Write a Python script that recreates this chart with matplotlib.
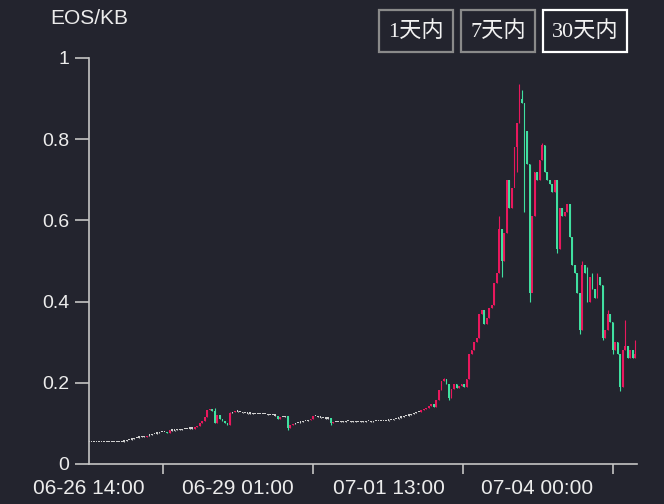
import matplotlib
matplotlib.use("Agg")
import matplotlib.pyplot as plt
from matplotlib.patches import Rectangle
import numpy as np

# hourly closes, starting 06-26 14:00
closes = [
    0.054, 0.054, 0.053, 0.054, 0.054, 0.053, 0.054, 0.054, 0.054, 0.053,
    0.054, 0.055, 0.054, 0.055, 0.056, 0.058, 0.060, 0.062, 0.064, 0.065,
    0.066, 0.068, 0.067, 0.070, 0.072, 0.073, 0.075, 0.076, 0.078, 0.079,
    0.080, 0.077, 0.083, 0.082, 0.084, 0.085, 0.084, 0.086, 0.085, 0.087,
    0.088, 0.087, 0.090, 0.094, 0.100, 0.106, 0.115, 0.132, 0.136, 0.131,
    0.100, 0.120, 0.112, 0.106, 0.101, 0.096, 0.126, 0.128, 0.131, 0.129,
    0.127, 0.126, 0.125, 0.124, 0.125, 0.123, 0.122, 0.124, 0.123, 0.124,
    0.122, 0.121, 0.121, 0.120, 0.119, 0.112, 0.116, 0.115, 0.117, 0.089,
    0.095, 0.098, 0.100, 0.102, 0.103, 0.105, 0.106, 0.108, 0.111, 0.117,
    0.118, 0.116, 0.114, 0.113, 0.112, 0.113, 0.100, 0.104, 0.103, 0.104,
    0.105, 0.104, 0.105, 0.105, 0.104, 0.105, 0.104, 0.104, 0.105, 0.104,
    0.105, 0.105, 0.104, 0.105, 0.105, 0.106, 0.105, 0.106, 0.107, 0.108,
    0.109, 0.111, 0.112, 0.114, 0.116, 0.117, 0.119, 0.121, 0.123, 0.125,
    0.127, 0.129, 0.132, 0.135, 0.138, 0.142, 0.148, 0.140, 0.158, 0.182,
    0.205, 0.210, 0.198, 0.162, 0.185, 0.196, 0.186, 0.191, 0.196, 0.190,
    0.210, 0.270, 0.280, 0.300, 0.310, 0.370, 0.380, 0.345, 0.360, 0.385,
    0.392, 0.445, 0.470, 0.580, 0.500, 0.570, 0.700, 0.630, 0.680, 0.780,
    0.840, 0.900, 0.890, 0.820, 0.740, 0.420, 0.610, 0.720, 0.700, 0.750,
    0.785, 0.720, 0.700, 0.690, 0.670, 0.700, 0.530, 0.630, 0.610, 0.620,
    0.640, 0.560, 0.490, 0.470, 0.420, 0.330, 0.490, 0.470, 0.400, 0.460,
    0.430, 0.410, 0.460, 0.440, 0.310, 0.330, 0.370, 0.350, 0.280, 0.300,
    0.270, 0.190, 0.280, 0.290, 0.260, 0.280, 0.260, 0.270, 0.300,
]
first_open = 0.054

# wicks that stick out of the bodies
high_wicks = {47: 0.133, 50: 0.138, 56: 0.128, 141: 0.212, 163: 0.61, 171: 0.935,
              172: 0.92, 180: 0.79, 196: 0.50, 198: 0.485, 200: 0.47, 202: 0.47,
              206: 0.38, 213: 0.355, 217: 0.305}
low_wicks = {79: 0.084, 96: 0.096, 143: 0.158, 164: 0.46, 169: 0.71, 170: 0.72,
             173: 0.62, 175: 0.40, 176: 0.51, 186: 0.52, 195: 0.32, 204: 0.305,
             208: 0.27, 211: 0.18}

x_labels = ["06-26 14:00", "06-29 01:00", "07-01 13:00", "07-04 00:00"]
label_idx = [0, 59, 119, 178]
tick_idx = [29.5, 89, 148.5, 208]
buttons = ["1天内", "7天内", "30天内"]

bg = "#23242e"
up_col = "#e8185d"
down_col = "#40e0a0"
flat_col = "#cfcfcf"
axis_col = "#c4c4c4"

plt.rcParams["font.family"] = ["Liberation Sans", "Noto Sans CJK SC", "DejaVu Sans"]

fig = plt.figure(figsize=(6.64, 5.04), dpi=100, facecolor=bg)
ax = fig.add_axes([89 / 664, 40 / 504, 548 / 664, 406 / 504], facecolor=bg)

opens = [first_open] + closes[:-1]
for i, (o, c) in enumerate(zip(opens, closes)):
    if abs(c - o) < 0.0025:
        col = flat_col
    elif c > o:
        col = up_col
    else:
        col = down_col
    hi = high_wicks.get(i, max(o, c))
    lo = low_wicks.get(i, min(o, c))
    ax.vlines(i, lo, hi, color=col, linewidth=0.8)
    ax.bar(i, max(abs(c - o), 0.003), bottom=min(o, c), width=0.7,
           color=col, linewidth=0)

ax.set_xlim(0, 217.7)
ax.set_ylim(0, 1)

for s in ["top", "right"]:
    ax.spines[s].set_visible(False)
for s in ["left", "bottom"]:
    ax.spines[s].set_color(axis_col)
    ax.spines[s].set_linewidth(1.2)

ax.set_yticks([0, 0.2, 0.4, 0.6, 0.8, 1.0])
ax.set_yticklabels(["0", "0.2", "0.4", "0.6", "0.8", "1"])
ax.tick_params(axis="y", length=10, width=1.2, color=axis_col,
               labelcolor="#ececec", labelsize=14, pad=4)

ax.set_xticks(tick_idx)
ax.set_xticklabels([])
ax.set_xticks(label_idx, minor=True)
ax.set_xticklabels(x_labels, minor=True)
ax.tick_params(axis="x", which="major", length=7, width=1.2, color=axis_col)
ax.tick_params(axis="x", which="minor", length=0, labelcolor="#ececec",
               labelsize=15, pad=11)

fig.text(50 / 664, 1 - 19 / 504, "EOS/KB", color="#ececec", fontsize=15,
         va="center", ha="left")

# range buttons at the top right
boxes = [(379, 453), (461, 535), (543, 627)]
for k, (name, (x0, x1)) in enumerate(zip(buttons, boxes)):
    edge = "#ffffff" if k == 2 else "#8a8a8a"
    fig.patches.append(Rectangle((x0 / 664, 1 - 52 / 504), (x1 - x0) / 664, 42 / 504,
                                 transform=fig.transFigure, fill=False,
                                 edgecolor=edge, linewidth=1.6))
    fig.text((x0 + x1) / 2 / 664, 1 - 32 / 504, name, color="#f2f2f2",
             fontsize=16, ha="center", va="center",
             family=["Liberation Serif", "Noto Sans CJK SC"])

fig.savefig("out.png", dpi=100, facecolor=bg)
